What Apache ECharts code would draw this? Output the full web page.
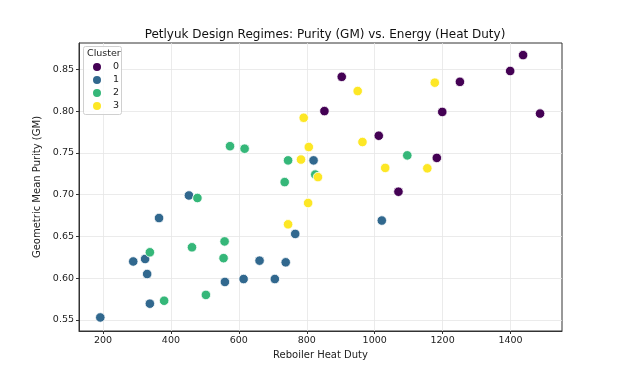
<!DOCTYPE html>
<html>
<head>
<meta charset="utf-8">
<script src="https://cdn.jsdelivr.net/npm/echarts@6/dist/echarts.min.js"></script>
<style>html,body{margin:0;padding:0;background:#fff;}#c{width:630px;height:388px;}</style>
</head>
<body>
<div id="c"></div>
<script>
const clusterNames = ['0', '1', '2', '3'];
const clusterColors = ['#440154', '#31688e', '#35b779', '#fde725'];

const cluster0Duty = [1437, 1399, 903, 1251, 852, 1199, 1487, 1012, 1183, 1070];
const cluster0Purity = [0.867, 0.848, 0.841, 0.835, 0.800, 0.799, 0.797, 0.7705, 0.744, 0.7035];

const cluster1Duty = [820, 1021, 453, 365, 766, 324, 289, 661, 738, 330, 614, 706, 559, 338, 192];
const cluster1Purity = [0.741, 0.669, 0.699, 0.672, 0.653, 0.623, 0.620, 0.621, 0.619, 0.605, 0.599, 0.599, 0.5955, 0.5695, 0.553];

const cluster2Duty = [574, 617, 745, 825, 735, 1096, 478, 558, 462, 338, 555, 503, 380];
const cluster2Purity = [0.758, 0.755, 0.741, 0.724, 0.715, 0.747, 0.696, 0.644, 0.637, 0.631, 0.624, 0.580, 0.573];

const cluster3Duty = [791, 806, 783, 833, 1177, 950, 964, 1031, 1155, 804, 745];
const cluster3Purity = [0.792, 0.757, 0.742, 0.721, 0.834, 0.824, 0.763, 0.732, 0.7315, 0.690, 0.6645];

const xTicks = [200, 400, 600, 800, 1000, 1200, 1400];
const yTicks = [0.55, 0.60, 0.65, 0.70, 0.75, 0.80, 0.85];

const allDuty = [cluster0Duty, cluster1Duty, cluster2Duty, cluster3Duty];
const allPurity = [cluster0Purity, cluster1Purity, cluster2Purity, cluster3Purity];

const FONT = 'DejaVu Sans';
const chart = echarts.init(document.getElementById('c'), null, {renderer: 'canvas'});

const series = clusterNames.map((name, i) => ({
  name: name,
  type: 'scatter',
  data: allDuty[i].map((d, j) => [d, allPurity[i][j]]),
  symbol: 'circle',
  symbolSize: 9.5,
  itemStyle: {color: clusterColors[i], borderColor: '#ffffff', borderWidth: 0.8, opacity: 1},
  emphasis: {disabled: true}
}));

chart.setOption({
  animation: false,
  backgroundColor: '#ffffff',
  textStyle: {fontFamily: FONT},
  title: {
    text: 'Petlyuk Design Regimes: Purity (GM) vs. Energy (Heat Duty)',
    left: 320, top: 24, textAlign: 'center',
    textStyle: {fontFamily: FONT, fontSize: 12, fontWeight: 'normal', color: '#111'}
  },
  grid: {
    left: 79, right: 68, top: 43, bottom: 57,
    show: true, borderColor: '#333', borderWidth: 1, backgroundColor: 'transparent'
  },
  xAxis: {
    type: 'value', min: 129.3, max: 1551.6,
    name: 'Reboiler Heat Duty', nameLocation: 'middle', nameGap: 16,
    nameTextStyle: {fontFamily: FONT, fontSize: 10, color: '#222'},
    axisLine: {show: true, onZero: false, lineStyle: {color: '#333', width: 1}},
    axisTick: {show: true, length: 3, customValues: xTicks, lineStyle: {color: '#333'}},
    axisLabel: {customValues: xTicks, fontFamily: FONT, fontSize: 9.5, color: '#222', margin: 5,
      formatter: v => String(Math.round(v))},
    splitLine: {show: true, lineStyle: {color: '#e6e6e6', width: 0.8}}
  },
  yAxis: {
    type: 'value', min: 0.5368, max: 0.8815,
    name: 'Geometric Mean Purity (GM)', nameLocation: 'middle', nameGap: 23,
    nameTextStyle: {fontFamily: FONT, fontSize: 10, color: '#222'},
    axisLine: {show: true, onZero: false, lineStyle: {color: '#333', width: 1}},
    axisTick: {show: true, length: 3, customValues: yTicks, lineStyle: {color: '#333'}},
    axisLabel: {customValues: yTicks, fontFamily: FONT, fontSize: 9.5, color: '#222', margin: 5,
      formatter: v => v.toFixed(2)},
    splitLine: {show: true, lineStyle: {color: '#e6e6e6', width: 0.8}}
  },
  legend: {
    data: clusterNames,
    orient: 'vertical',
    left: 91, top: 61, padding: 0,
    itemWidth: 10, itemHeight: 10, itemGap: 1,
    icon: 'circle',
    selectedMode: false,
    z: 70,
    textStyle: {fontFamily: FONT, fontSize: 9.5, color: '#222', lineHeight: 11, padding: [0, 0, 0, 6]}
  },
  graphic: [
    {type: 'rect', left: 83, top: 46, shape: {width: 38, height: 68, r: 2},
     style: {fill: 'rgba(255,255,255,0.85)', stroke: '#d0d0d0', lineWidth: 1}, z: 55},
    {type: 'text', left: 87, top: 49, style: {text: 'Cluster', fontFamily: FONT, fontSize: 9.5, fill: '#222'}, z: 60}
  ],
  series: series
});
</script>
</body>
</html>
